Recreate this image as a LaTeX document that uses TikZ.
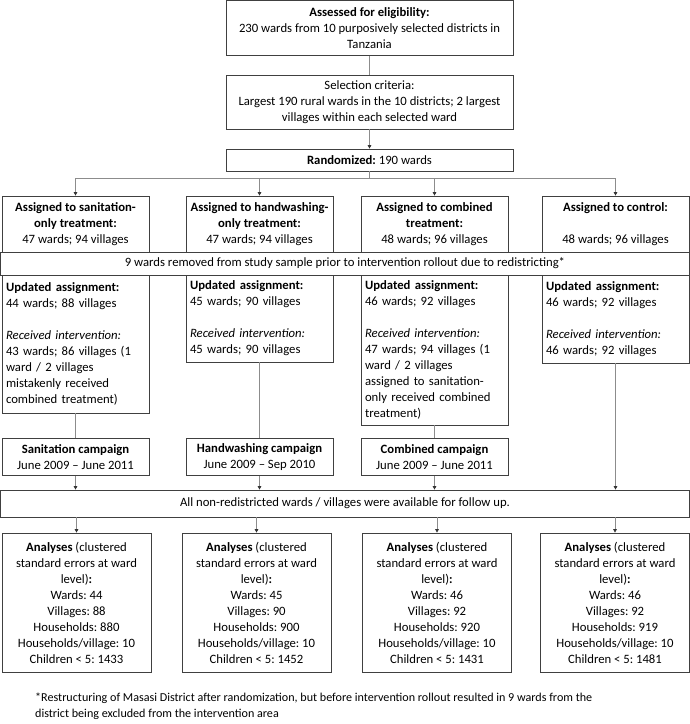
\documentclass[tikz,border=0pt]{standalone}
\usepackage{fontspec}
\setmainfont{Carlito}
\usetikzlibrary{arrows,arrows.meta,positioning}
\definecolor{framecolor}{RGB}{64,64,64}
\definecolor{linkcolor}{RGB}{140,140,140}
\frenchspacing

\begin{document}
\begin{tikzpicture}[%
    x=1pt, y=-1pt,              % one unit per pixel, going down the page
    >={Triangle[length=3.5pt,width=3.5pt,color=black!80]}, % small dark heads
    font=\fontsize{12.7}{16}\selectfont,
    ]
\tikzset{
  base/.style={draw=framecolor, line width=0.7pt, inner xsep=4pt, inner ysep=0pt, align=center},
  wide/.style={base, minimum width=287pt},
  proc/.style={base, minimum width=147pt},
  info/.style={base, text width=139pt, align=left},
  result/.style={base, minimum width=149pt},
  band/.style={base, minimum width=689pt},
  link/.style={draw=linkcolor, line width=0.7pt},
}
\useasboundingbox (0,0) rectangle (690,724);

\node [wide, minimum height=55pt] (p0) at (369.5,28) {\textbf{Assessed for eligibility:}\\230 wards from 10 purposively selected districts in\\Tanzania};
\node [wide, minimum height=54pt] (p1) at (369.5,102) {Selection criteria:\\Largest 190 rural wards in the 10 districts; 2 largest\\villages within each selected ward};
\node [wide, minimum height=22pt] (p2) at (369.5,160) {\textbf{Randomized:} 190 wards};

\node [proc, minimum height=56pt] (a1) at (75.5,224) {\textbf{Assigned to sanitation-}\\\textbf{only treatment:}\\47 wards; 94 villages};
\node [proc, minimum height=56pt] (a2) at (259.5,224) {\textbf{Assigned to handwashing-}\\\textbf{only treatment:}\\47 wards; 94 villages};
\node [proc, minimum height=56pt] (a3) at (434.5,224) {\textbf{Assigned to combined}\\\textbf{treatment:}\\48 wards; 96 villages};
\node [proc, minimum height=56pt] (a4) at (615.5,224) {\textbf{Assigned to control:}\\~\\48 wards; 96 villages};

\node [band, minimum height=23pt] (r0) at (345,263.5) {9 wards removed from study sample prior to intervention rollout due to redistricting*};

\node [info, minimum height=138pt] (u1) at (75.5,344) {\textbf{Updated assignment:}\\44 wards; 88 villages\\~\\\textit{Received intervention:}\\43 wards; 86 villages (1\\ward / 2 villages\\mistakenly received\\combined treatment)};
\node [info, minimum height=87pt] (u2) at (259.5,318.5) {\textbf{Updated assignment:}\\45 wards; 90 villages\\~\\\textit{Received intervention:}\\45 wards; 90 villages};
\node [info, minimum height=150pt] (u3) at (434.5,350) {\textbf{Updated assignment:}\\46 wards; 92 villages\\~\\\textit{Received intervention:}\\47 wards; 94 villages (1\\ward / 2 villages\\assigned to sanitation-\\only received combined\\treatment)};
\node [info, minimum height=88pt] (u4) at (615.5,319) {\textbf{Updated assignment:}\\46 wards; 92 villages\\~\\\textit{Received intervention:}\\46 wards; 92 villages};

\node [proc, minimum height=37pt] (c1) at (75.5,457) {\textbf{Sanitation campaign}\\June 2009 -- June 2011};
\node [proc, minimum height=37pt] (c2) at (259.5,457) {\textbf{Handwashing campaign}\\June 2009 -- Sep 2010};
\node [proc, minimum height=37pt] (c3) at (434.5,457) {\textbf{Combined campaign}\\June 2009 -- June 2011};

\node [band, minimum height=27pt] (r1) at (345,503.5) {All non-redistricted wards / villages were available for follow up.};

\node [result, minimum height=139pt] (e1) at (76.5,602.5) {\textbf{Analyses} (clustered\\standard errors at ward\\level)\textbf{:}\\Wards: 44\\Villages: 88\\Households: 880\\Households/village: 10\\Children < 5: 1433};
\node [result, minimum height=139pt] (e2) at (256.5,602.5) {\textbf{Analyses} (clustered\\standard errors at ward\\level)\textbf{:}\\Wards: 45\\Villages: 90\\Households: 900\\Households/village: 10\\Children < 5: 1452};
\node [result, minimum height=139pt] (e3) at (437,602.5) {\textbf{Analyses} (clustered\\standard errors at ward\\level)\textbf{:}\\Wards: 46\\Villages: 92\\Households: 920\\Households/village: 10\\Children < 5: 1431};
\node [result, minimum height=139pt] (e4) at (615,602.5) {\textbf{Analyses} (clustered\\standard errors at ward\\level)\textbf{:}\\Wards: 46\\Villages: 92\\Households: 919\\Households/village: 10\\Children < 5: 1481};

\node [anchor=west, align=left, inner sep=0pt, font=\fontsize{12.1}{16}\selectfont] (ft) at (35,706) {*Restructuring of Masasi District after randomization, but before intervention rollout resulted in 9 wards from the\\district being excluded from the intervention area};

%connect
\coordinate (br) at (369.5,178);
\draw [link] (p0.south) -- (p1.north);
\draw [link,->] (p1.south) -- (p2.north);
\draw [link] (p2.south) -- (br);
\draw [link,->] (br) -| (a1.north);
\draw [link,->] (br) -| (a2.north);
\draw [link,->] (br) -| (a3.north);
\draw [link,->] (br) -| (a4.north);

\draw [link] (u1.south) -- (c1.north);
\draw [link] (u2.south) -- (c2.north);
\draw [link] (u3.south) -- (c3.north);
\draw [link,->] (u4.south) -- (u4.south |- r1.north);
\draw [link,->] (c1.south) -- (c1.south |- r1.north);
\draw [link,->] (c2.south) -- (c2.south |- r1.north);
\draw [link,->] (c3.south) -- (c3.south |- r1.north);

\draw [link,->] (e1.north |- r1.south) -- (e1.north);
\draw [link,->] (e2.north |- r1.south) -- (e2.north);
\draw [link,->] (e3.north |- r1.south) -- (e3.north);
\draw [link,->] (e4.north |- r1.south) -- (e4.north);

\end{tikzpicture}
\end{document}
